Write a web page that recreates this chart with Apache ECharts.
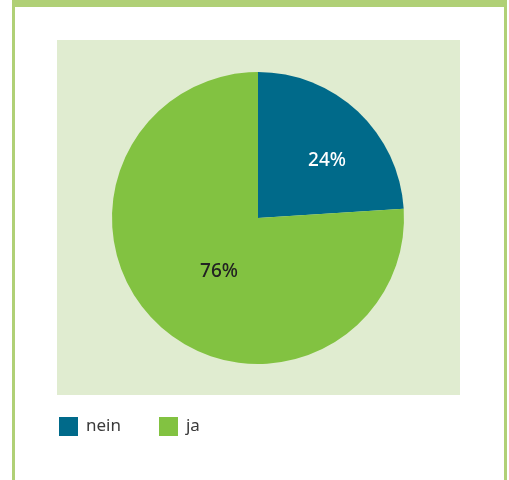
<!DOCTYPE html>
<html>
<head>
<meta charset="utf-8">
<script src="https://cdn.jsdelivr.net/npm/echarts@6/dist/echarts.min.js"></script>
<style>
  html, body { margin: 0; padding: 0; background: #ffffff; }
  #chart { width: 509px; height: 480px; }
</style>
</head>
<body>
<div id="chart"></div>
<script>
// Answer categories and their shares (percent)
const categories = ['nein', 'ja'];
const shares = [24, 76];
const sliceColors = ['#006a8a', '#82c241'];
const labelColors = ['#ffffff', '#222222'];
const labelOffsets = [[17, -2], [13, -2]];

const chart = echarts.init(document.getElementById('chart'), null, { renderer: 'canvas' });

chart.setOption({
  animation: false,
  backgroundColor: '#ffffff',
  graphic: [
    // frame: top band and side rules
    { type: 'rect', shape: { x: 12, y: 0, width: 495, height: 7 }, style: { fill: '#b0d076' }, z: 0 },
    { type: 'rect', shape: { x: 12, y: 0, width: 3, height: 480 }, style: { fill: '#b0d076' }, z: 0 },
    { type: 'rect', shape: { x: 504, y: 0, width: 3, height: 480 }, style: { fill: '#b0d076' }, z: 0 },
    // plot panel
    { type: 'rect', shape: { x: 57, y: 40, width: 403, height: 355 }, style: { fill: '#e0ecd0' }, z: 0 }
  ],
  legend: {
    left: 59,
    top: 417,
    padding: 0,
    itemWidth: 19,
    itemHeight: 19,
    itemGap: 38,
    icon: 'rect',
    data: categories,
    textStyle: { fontFamily: 'Noto Sans', fontSize: 17, color: '#3a3a3a', padding: [0, 0, 0, 3] }
  },
  series: [{
    type: 'pie',
    center: [258, 218],
    radius: 146,
    startAngle: 90,
    clockwise: true,
    silent: true,
    label: {
      position: 'inside',
      fontFamily: 'Noto Sans',
      fontSize: 19,
      fontWeight: 500,
      formatter: p => p.value + '%'
    },
    labelLine: { show: false },
    data: categories.map((name, i) => ({
      name,
      value: shares[i],
      itemStyle: { color: sliceColors[i] },
      label: { color: labelColors[i], offset: labelOffsets[i] }
    }))
  }]
});
</script>
</body>
</html>
